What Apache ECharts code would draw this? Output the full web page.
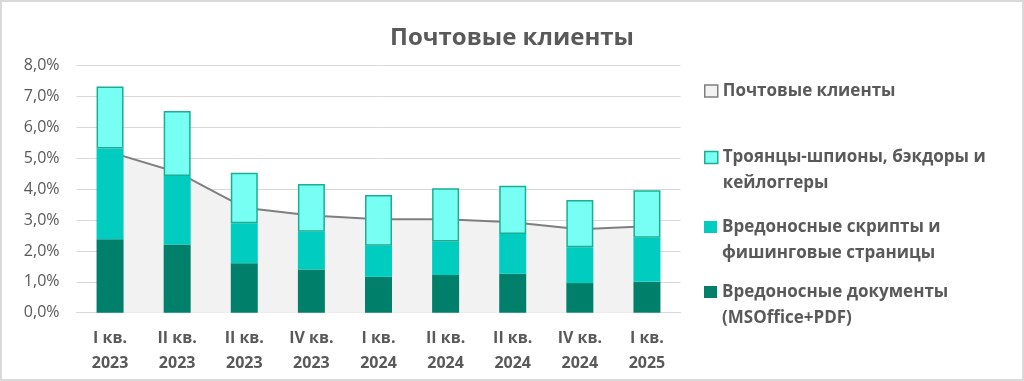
<!DOCTYPE html>
<html>
<head>
<meta charset="utf-8">
<script src="https://cdn.jsdelivr.net/npm/echarts@6/dist/echarts.min.js"></script>
<style>
html,body{margin:0;padding:0;background:#fff;}
#wrap{position:relative;width:1024px;height:381px;}
#chart{width:1024px;height:381px;}
#frame{position:absolute;left:0;top:0;right:0;bottom:0;border:2px solid #D9D9D9;pointer-events:none;}
</style>
</head>
<body>
<div id="wrap"><div id="chart"></div><div id="frame"></div></div>
<script>
// Data (percent values)
const categories = ['I кв.\n2023','II кв.\n2023','II кв.\n2023','IV кв.\n2023','I кв.\n2024','II кв.\n2024','II кв.\n2024','IV кв.\n2024','I кв.\n2025'];
const mailClients = [5.2, 4.55, 3.4, 3.15, 3.03, 3.03, 2.93, 2.7, 2.8];
const docs =    [2.38, 2.21, 1.60, 1.40, 1.16, 1.22, 1.26, 0.96, 1.00];
const scripts = [2.94, 2.22, 1.30, 1.22, 1.01, 1.09, 1.29, 1.16, 1.43];
const trojans = [2.01, 2.10, 1.63, 1.55, 1.64, 1.72, 1.56, 1.53, 1.54];
const yTicks = [0,1,2,3,4,5,6,7,8];

const nameMail = 'Почтовые клиенты';
const nameTroj = 'Троянцы-шпионы, бэкдоры и\nкейлоггеры';
const nameScr = 'Вредоносные скрипты и\nфишинговые страницы';
const nameDoc = 'Вредоносные документы\n(MSOffice+PDF)';

const TXT = '#595959';
const FONT = '"Open Sans", "DejaVu Sans", sans-serif';
const C_DOC = '#00806B', C_SCR = '#00CCBF', C_TROJ = '#78FFF4', C_TROJ_B = '#1AAE94';

const chart = echarts.init(document.getElementById('chart'), null, {renderer:'canvas'});
const legendText = {color: TXT, fontSize: 17, fontWeight: 'bold', fontFamily: FONT, lineHeight: 26};
function lg(top, item, twoLine){
  const o = {left: 704, top: top, padding: 0, itemWidth: 13, itemHeight: 12, itemGap: 0,
    selectedMode: false, textStyle: legendText, data: [item]};
  if (twoLine) o.formatter = n => '\n' + n;
  return o;
}
chart.setOption({
  animation: false,
  backgroundColor: '#fff',
  title: {text: nameMail, left: 'center', top: 21,
    textStyle: {color: TXT, fontSize: 24, fontWeight: 'bold', fontFamily: FONT}},
  legend: [
    lg(78, {name: nameMail, icon: 'rect', itemStyle: {color:'#F2F2F2', borderColor:'#7F7F7F', borderWidth:1.5}}, false),
    lg(118.5, {name: nameTroj, icon: 'rect', itemStyle: {color:C_TROJ, borderColor:C_TROJ_B, borderWidth:1.5}}, true),
    lg(188, {name: nameScr, icon: 'rect', itemStyle: {color:C_SCR}}, true),
    lg(253, {name: nameDoc, icon: 'rect', itemStyle: {color:C_DOC}}, true)
  ],
  grid: {left: 76.5, right: 343.5, top: 65.7, bottom: 68.3, containLabel: false},
  xAxis: {type: 'category', data: categories,
    axisLine: {lineStyle: {color: '#D9D9D9', width: 1}},
    axisTick: {show: false},
    axisLabel: {color: TXT, fontSize: 16, fontWeight: 'bold', fontFamily: FONT, lineHeight: 25, margin: 13, interval: 0}},
  yAxis: {type: 'value', min: 0, max: 8, interval: 1,
    axisLine: {show: false}, axisTick: {show: false},
    splitLine: {lineStyle: {color: '#D9D9D9', width: 1}},
    axisLabel: {color: TXT, fontSize: 16, fontFamily: FONT, margin: 17,
      formatter: v => v.toFixed(1).replace('.', ',') + '%'}},
  series: [
    {name: nameMail, type: 'line', data: mailClients, z: 1, symbol: 'none',
      lineStyle: {color: '#7F7F7F', width: 2}, itemStyle: {color: '#F2F2F2'},
      areaStyle: {color: '#F2F2F2', opacity: 1}},
    {name: nameDoc, type: 'bar', stack: 'a', data: docs, barWidth: 27, z: 3,
      itemStyle: {color: C_DOC}},
    {name: nameScr, type: 'bar', stack: 'a', data: scripts, barWidth: 27, z: 3,
      itemStyle: {color: C_SCR}},
    {name: nameTroj, type: 'bar', stack: 'a', data: trojans, barWidth: 27, z: 3,
      itemStyle: {color: C_TROJ, borderColor: C_TROJ_B, borderWidth: 1.5}}
  ]
});
</script>
</body>
</html>
